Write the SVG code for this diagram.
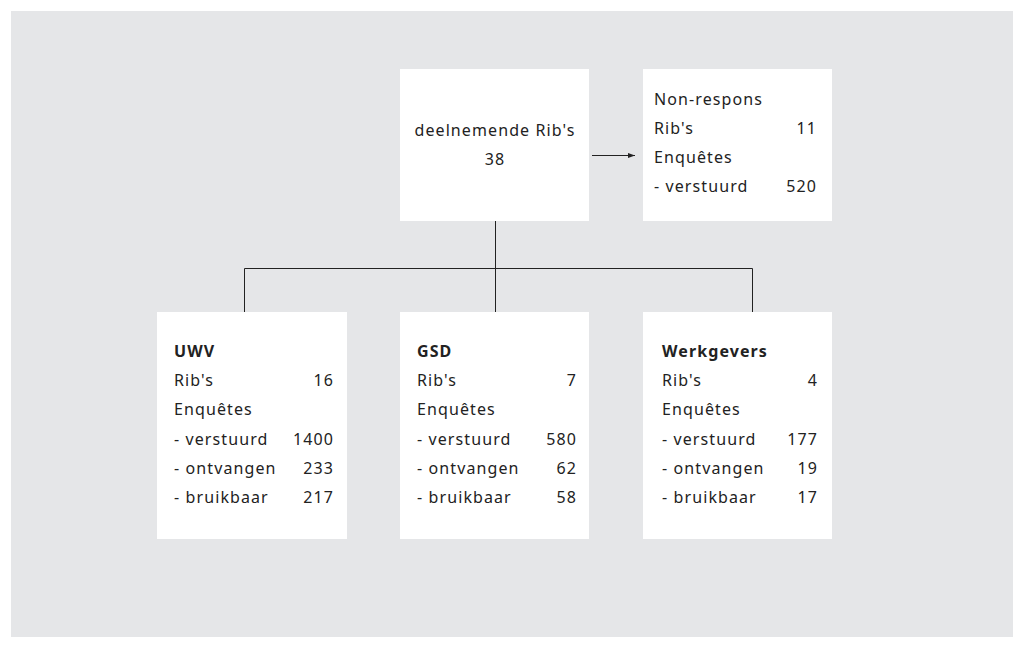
<svg xmlns="http://www.w3.org/2000/svg" width="1023" height="647" viewBox="0 0 1023 647">
<defs>
<marker id="ah" markerWidth="8" markerHeight="6" refX="7" refY="3" orient="auto" markerUnits="userSpaceOnUse">
<path d="M0,0.5 L7,3 L0,5.5 Z" fill="#222"/>
</marker>
<style>
.box{fill:#fff}
text{font-family:"Noto Sans","Open Sans",sans-serif;font-size:16px;fill:#222;letter-spacing:1.1px}
.b{font-weight:bold}
.r{text-anchor:end}
.c{text-anchor:middle}
.ln{stroke:#222;stroke-width:1;fill:none}
</style>
</defs>
<rect x="0" y="0" width="1023" height="647" fill="#fff"/>
<rect x="11" y="11" width="1002" height="626" fill="#e5e6e8"/>
<g id="connectors">
<path class="ln" d="M495.5,221 V268.5 M244.5,312 V268.5 H752.5 V312 M495.5,268.5 V312"/>
<path class="ln" d="M592,155.5 H635" marker-end="url(#ah)"/>
</g>
<g id="deelnemende">
<rect class="box" x="400" y="69" width="189" height="152"/>
<text class="c" x="495" y="136">deelnemende Rib's</text>
<text class="c" x="495" y="165">38</text>
</g>
<g id="nonrespons">
<rect class="box" x="643" y="69" width="189" height="152"/>
<text x="654" y="105">Non-respons</text>
<text x="654" y="134">Rib's</text>
<text class="r" x="817" y="134">11</text>
<text x="654" y="163">Enquêtes</text>
<text x="654" y="192">- verstuurd</text>
<text class="r" x="817" y="192">520</text>
</g>
<g id="uwv">
<rect class="box" x="157" y="312" width="190" height="227"/>
<text class="b" x="174" y="357">UWV</text>
<text x="174" y="386">Rib's</text>
<text class="r" x="334" y="386">16</text>
<text x="174" y="415">Enquêtes</text>
<text x="174" y="445">- verstuurd</text>
<text class="r" x="334" y="445">1400</text>
<text x="174" y="474">- ontvangen</text>
<text class="r" x="334" y="474">233</text>
<text x="174" y="503">- bruikbaar</text>
<text class="r" x="334" y="503">217</text>
</g>
<g id="gsd">
<rect class="box" x="400" y="312" width="189" height="227"/>
<text class="b" x="417" y="357">GSD</text>
<text x="417" y="386">Rib's</text>
<text class="r" x="577" y="386">7</text>
<text x="417" y="415">Enquêtes</text>
<text x="417" y="445">- verstuurd</text>
<text class="r" x="577" y="445">580</text>
<text x="417" y="474">- ontvangen</text>
<text class="r" x="577" y="474">62</text>
<text x="417" y="503">- bruikbaar</text>
<text class="r" x="577" y="503">58</text>
</g>
<g id="werkgevers">
<rect class="box" x="643" y="312" width="189" height="227"/>
<text class="b" x="662" y="357">Werkgevers</text>
<text x="662" y="386">Rib's</text>
<text class="r" x="818" y="386">4</text>
<text x="662" y="415">Enquêtes</text>
<text x="662" y="445">- verstuurd</text>
<text class="r" x="818" y="445">177</text>
<text x="662" y="474">- ontvangen</text>
<text class="r" x="818" y="474">19</text>
<text x="662" y="503">- bruikbaar</text>
<text class="r" x="818" y="503">17</text>
</g>
</svg>
